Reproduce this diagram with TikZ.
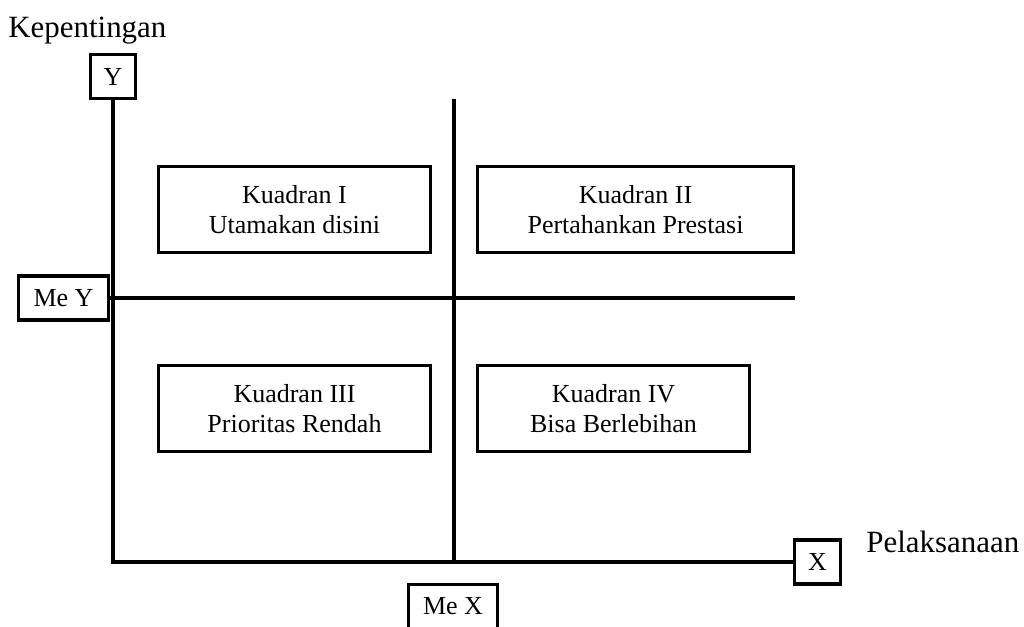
\documentclass[tikz,border=0pt]{standalone}
\usepackage{fontspec}
\setmainfont{Liberation Serif}
\usetikzlibrary{positioning}

\begin{document}
\begin{tikzpicture}[x=0.02cm, y=-0.02cm, axis/.style={line width=2.2pt}, tag/.style={draw, line width=2.2pt, fill=white, inner sep=0pt, minimum height=0.88cm, font=\fontsize{14.8}{17}\selectfont}, quad/.style={draw, line width=1.9pt, align=center, minimum width=5.44cm, minimum height=1.72cm, font=\fontsize{14.8}{17}\selectfont}, title/.style={anchor=base west, inner sep=0pt, font=\fontsize{17.6}{20}\selectfont}]
\useasboundingbox (0,0) rectangle (1024,626);
\node[title] (kep) at (8,37) {Kepentingan};
\node[title] (pel) at (866,552) {Pelaksanaan};
\node[tag, minimum width=0.9cm] (y) at (113,76.5) {Y};
\node[tag, minimum width=0.92cm] (x) at (817.5,562) {X};
\node[tag, minimum width=1.8cm] (mey) at (63.5,298) {Me Y};
\node[tag, minimum width=1.78cm] (mex) at (453,606.5) {Me X};
\coordinate (o) at (113,562);
\coordinate (mtop) at (454,99);
\coordinate (mbot) at (454,562);
\coordinate (hend) at (795,298);
\draw[axis] (y) -- (o) -- (x);
\draw[axis] (mey) -- (hend);
\draw[axis] (mtop) -- (mbot);
\node[quad] (q1) at (294.5,209.5) {Kuadran I\\Utamakan disini};
\node[quad, minimum width=6.32cm] (q2) at (635.5,209.5) {Kuadran II\\Pertahankan Prestasi};
\node[quad] (q3) at (294.5,408.5) {Kuadran III\\Prioritas Rendah};
\node[quad] (q4) at (613.5,408.5) {Kuadran IV\\Bisa Berlebihan};
\end{tikzpicture}
\end{document}
